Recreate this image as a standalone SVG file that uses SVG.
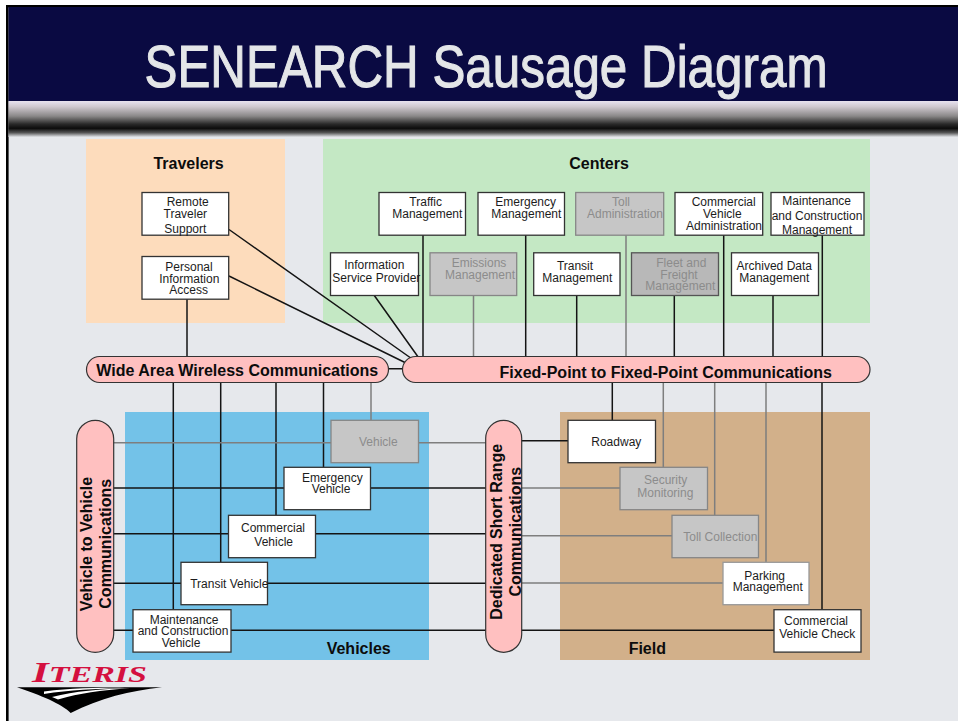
<svg xmlns="http://www.w3.org/2000/svg" width="958" height="721" viewBox="0 0 958 721">
<style>
text{font-family:"Liberation Sans",Arial,sans-serif;font-size:12px;text-anchor:middle;fill:#1c1c1c}
.h{font-size:16px;font-weight:bold;fill:#0c0c0c}
.g{fill:#8c8c8c}
.n{fill:#fff;stroke:#333;stroke-width:1.3}
.ng{fill:#c6c6c6;stroke:#868686;stroke-width:1.3}
.p{fill:#ffc0c0;stroke:#333;stroke-width:1.2}
.k{stroke:#141414;stroke-width:1.5;fill:none}
.y{stroke:#7e7e7e;stroke-width:1.5;fill:none}
</style>
<defs>
<linearGradient id="band" x1="0" y1="0" x2="0" y2="1">
<stop offset="0" stop-color="#e8e2f0"/>
<stop offset="0.16" stop-color="#cfc8cf"/>
<stop offset="0.42" stop-color="#8a8888"/>
<stop offset="0.64" stop-color="#2a2a2a"/>
<stop offset="0.76" stop-color="#0c0c0c"/>
<stop offset="0.88" stop-color="#555"/>
<stop offset="1" stop-color="#e2e4e8"/>
</linearGradient>
</defs>
<rect width="958" height="721" fill="#fff"/>
<rect x="8" y="7" width="950" height="714" fill="#e6e8ec"/>
<rect x="6" y="5" width="952" height="2.4" fill="#000"/>
<rect x="6" y="5" width="2.6" height="716" fill="#000"/>
<rect x="8.5" y="7" width="950" height="94.500" fill="#0a0a42"/>
<rect x="8.5" y="101" width="950" height="36" fill="url(#band)"/>
<text x="486" y="87" style="font-family:'Liberation Sans Narrow','Liberation Sans',sans-serif;font-size:60px;fill:#e4e6e8;stroke:#e4e6e8;stroke-width:1.1" textLength="683" lengthAdjust="spacingAndGlyphs">SENEARCH Sausage Diagram</text>

<g id="panels">
<rect x="86" y="139" width="199" height="184" fill="#fddcbc"/>
<rect x="323" y="139" width="547" height="184" fill="#c4e8c4"/>
<rect x="125" y="412" width="304" height="248" fill="#73c2e8"/>
<rect x="560" y="412" width="310" height="248" fill="#d2b08a"/>
<text class="h" x="188.600" y="168.500">Travelers</text>
<text class="h" x="599" y="168.500">Centers</text>
<text class="h" x="358.700" y="654">Vehicles</text>
<text class="h" x="647.300" y="654">Field</text>
</g>

<g id="connectors">
<path class="k" d="M229 229.500L415 361M229 276L408 364M374.300 295.500L421 361M423 235V357M525.700 235V357M576.700 295V357M674.300 295V357M723.700 235V357M773 295V357M822.300 235V357M187 299V357M388 368.700H403"/>
<path class="y" d="M473.500 295V357M626 235V357"/>
<path class="k" d="M173.300 382V610M220.700 382V562M276 382V515M323.500 382V467"/>
<path class="y" d="M371 382V420"/>
<path class="k" d="M612.300 382V420M822 382V610"/>
<path class="y" d="M663.300 382V467M714.700 382V515M766 382V562"/>
<path class="y" d="M113 442.700H486"/>
<path class="k" d="M113 488H486M113 533.700H486M113 583.300H486M113 630.300H486"/>
<path class="k" d="M521 440.700H568M521 630.300H774"/>
<path class="y" d="M521 488H620M521 535.700H672M521 583H723"/>
</g>

<g id="wide-area"><rect class="p" x="86.500" y="356.500" width="302" height="26" rx="13"/><text class="h" x="237.300" y="376">Wide Area Wireless Communications</text></g>
<g id="fixed-point"><rect class="p" x="402.500" y="356.500" width="467.500" height="26" rx="13"/><text class="h" x="665.800" y="378">Fixed-Point to Fixed-Point Communications</text></g>
<g id="v2v"><rect class="p" x="76.700" y="420.300" width="37" height="232" rx="18.500"/>
<text class="h" transform="translate(91.700 544) rotate(-90)">Vehicle to Vehicle</text>
<text class="h" transform="translate(110.700 543.800) rotate(-90)">Communications</text></g>
<g id="dsrc"><rect class="p" x="485.700" y="420.300" width="36" height="232" rx="18"/>
<text class="h" transform="translate(502 531.800) rotate(-90)">Dedicated Short Range</text>
<text class="h" transform="translate(520.700 531.700) rotate(-90)">Communications</text></g>

<g id="remote-traveler"><rect class="n" x="142" y="192.500" width="86.700" height="42.700"/><text x="187.700" y="206">Remote</text><text x="185.300" y="218">Traveler</text><text x="185.300" y="232.700">Support</text></g>
<g id="personal-info"><rect class="n" x="142" y="256.500" width="86.700" height="42.700"/><text x="189" y="271">Personal</text><text x="189.300" y="283">Information</text><text x="188.700" y="294">Access</text></g>
<g id="traffic"><rect class="n" x="379" y="192.500" width="86.500" height="42.700"/><text x="425.700" y="206">Traffic</text><text x="427.300" y="218">Management</text></g>
<g id="emergency-mgmt"><rect class="n" x="478" y="192.500" width="86.500" height="42.700"/><text x="525.700" y="206">Emergency</text><text x="526.300" y="218">Management</text></g>
<g id="toll-admin"><rect class="ng" x="575.700" y="192.500" width="88" height="42.700"/><text class="g" x="621" y="206">Toll</text><text class="g" x="625" y="218">Administration</text></g>
<g id="cv-admin"><rect class="n" x="675" y="192.500" width="87.700" height="42.700"/><text x="723.700" y="206">Commercial</text><text x="722.300" y="218">Vehicle</text><text x="724" y="230">Administration</text></g>
<g id="maint-constr"><rect class="n" x="771" y="192.500" width="93" height="42.700"/><text x="816.700" y="205">Maintenance</text><text x="817" y="220">and Construction</text><text x="817" y="234">Management</text></g>
<g id="isp"><rect class="n" x="330.500" y="252.800" width="88" height="42.700"/><text x="374.300" y="269">Information</text><text x="376.300" y="282">Service Provider</text></g>
<g id="emissions"><rect class="ng" x="430" y="252.800" width="86.700" height="42.700"/><text class="g" x="479" y="267">Emissions</text><text class="g" x="480" y="279">Management</text></g>
<g id="transit-mgmt"><rect class="n" x="533.700" y="252.800" width="86.300" height="42.700"/><text x="575" y="270">Transit</text><text x="577.300" y="282">Management</text></g>
<g id="fleet"><rect x="631.500" y="252.800" width="87" height="42.700" fill="#b8b8b8" stroke="#555" stroke-width="1.300"/><text class="g" x="681.300" y="267">Fleet and</text><text class="g" x="679" y="279">Freight</text><text class="g" x="680.300" y="290">Management</text></g>
<g id="archived"><rect class="n" x="731.500" y="252.800" width="87" height="42.700"/><text x="774.300" y="270">Archived Data</text><text x="774.300" y="282">Management</text></g>

<g id="vehicle"><rect class="ng" x="331" y="420.300" width="87.500" height="42.400"/><text class="g" x="378.300" y="446">Vehicle</text></g>
<g id="emergency-vehicle"><rect class="n" x="284" y="467.300" width="86.500" height="42.400"/><text x="332.300" y="482">Emergency</text><text x="331" y="493">Vehicle</text></g>
<g id="commercial-vehicle"><rect class="n" x="228.500" y="515.300" width="87" height="42.400"/><text x="273" y="532.300">Commercial</text><text x="273.700" y="546">Vehicle</text></g>
<g id="transit-vehicle"><rect class="n" x="181" y="562.300" width="86.500" height="42.400"/><text x="229.300" y="588">Transit Vehicle</text></g>
<g id="maint-vehicle"><rect class="n" x="133" y="609.700" width="98" height="42.400"/><text x="184" y="623.700">Maintenance</text><text x="183" y="635">and Construction</text><text x="181" y="646.700">Vehicle</text></g>

<g id="roadway"><rect class="n" x="568" y="420.300" width="87.500" height="42.400"/><text x="616.300" y="446">Roadway</text></g>
<g id="security"><rect class="ng" x="620" y="467.300" width="87.500" height="42.400"/><text class="g" x="665.700" y="484">Security</text><text class="g" x="665.300" y="497">Monitoring</text></g>
<g id="toll-collection"><rect class="ng" x="672" y="515.300" width="86.500" height="42.400"/><text class="g" x="720.300" y="541">Toll Collection</text></g>
<g id="parking"><rect x="723" y="562.300" width="86" height="42.400" fill="#fff" stroke="#999" stroke-width="1.300"/><text x="764.700" y="580">Parking</text><text x="767.700" y="591">Management</text></g>
<g id="cv-check"><rect class="n" x="774" y="609.700" width="87" height="42.400"/><text x="816" y="625">Commercial</text><text x="817.300" y="638">Vehicle Check</text></g>

<g id="logo">
<text x="32" y="682" style="text-anchor:start;font-family:'Liberation Serif',serif;font-style:italic;font-weight:bold;font-size:23px;fill:#d4103f" textLength="115" lengthAdjust="spacingAndGlyphs"><tspan font-size="29">I</tspan>TERIS</text>
<path d="M17 687.300H162C130 691 100 698 70.700 713C62 704 40 695 17 687.300Z" fill="#000"/>
<path d="M44 691.500C70 688 95 687.800 125 687.800C95 689 70 690 44 694ZM52 697C75 691 100 689 130 688C100 690.500 80 693 58 699.500Z" fill="#fff"/>
</g>
</svg>
